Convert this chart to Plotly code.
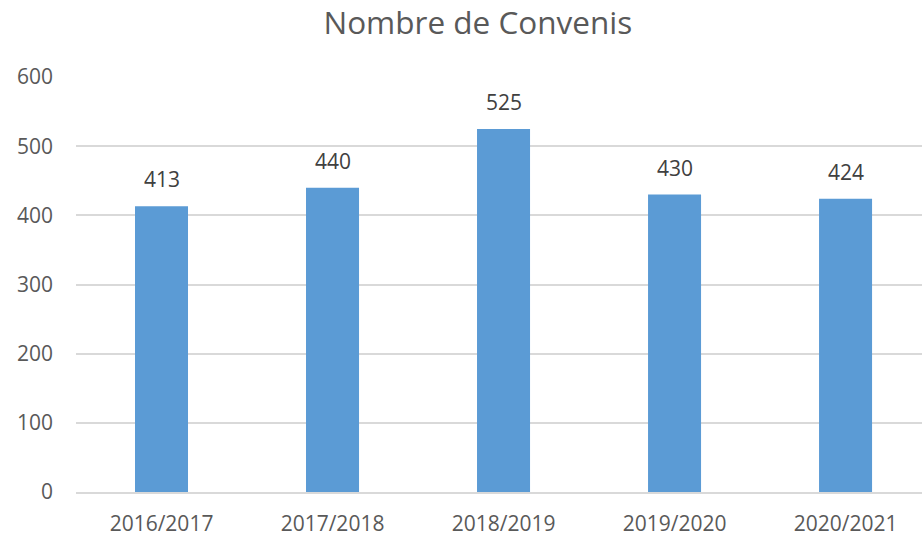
import plotly.graph_objects as go

categories = ["2016/2017", "2017/2018", "2018/2019", "2019/2020", "2020/2021"]
values = [413, 440, 525, 430, 424]
y_ticks = [0, 100, 200, 300, 400, 500, 600]

FONT = "Open Sans"

fig = go.Figure(go.Bar(
    x=categories, y=values,
    marker=dict(color="#5B9BD5", line=dict(width=0)),
    width=0.31,
))

for c, v in zip(categories, values):
    fig.add_annotation(x=c, y=v, text=str(v), showarrow=False,
                       yanchor="bottom", yshift=11,
                       font=dict(family=FONT, size=21, color="#404040"))

fig.update_layout(
    width=922, height=538,
    margin=dict(l=76, r=0, t=77, b=46),
    paper_bgcolor="white", plot_bgcolor="white",
    showlegend=False,
    title=dict(text="Nombre de Convenis", x=0.475, xref="paper", xanchor="center",
               y=0.957, yanchor="middle",
               font=dict(family=FONT, size=31.5, color="#595959")),
    xaxis=dict(range=[-0.5, 4.447], showgrid=False, showline=True,
               linecolor="#d9d9d9", linewidth=1.5, ticks="",
               tickfont=dict(family=FONT, size=21, color="#595959"),
               ticklabelstandoff=12),
    yaxis=dict(range=[0, 600], tickvals=y_ticks, showgrid=True,
               gridcolor="#d9d9d9", gridwidth=1.5, zeroline=False,
               showline=False, ticks="",
               tickfont=dict(family=FONT, size=21, color="#595959"),
               ticklabelstandoff=22),
)

fig.write_html("out.html")
